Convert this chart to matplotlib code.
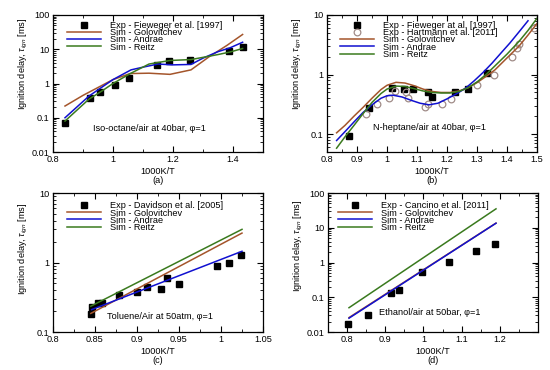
import numpy as np
import matplotlib
matplotlib.use("Agg")
import matplotlib.pyplot as plt
from matplotlib.ticker import MultipleLocator, FixedLocator, LogLocator, FuncFormatter, NullFormatter

plt.rcParams['font.family'] = ['Liberation Sans', 'DejaVu Sans']
plt.rcParams['mathtext.fontset'] = 'custom'
plt.rcParams['mathtext.rm'] = 'Liberation Sans'
plt.rcParams['mathtext.it'] = 'Liberation Sans:italic'
plt.rcParams['font.size'] = 6.6

BROWN = '#a4552b'
BLUE = '#1010d0'
GREEN = '#3a7a1e'
CIRC = '#a08c88'

# ---------------- (a) iso-octane ----------------
a_exp_x = [0.84, 0.923, 0.957, 1.007, 1.053, 1.146, 1.188, 1.257, 1.387, 1.432]
a_exp_y = [0.072, 0.37, 0.55, 0.93, 1.45, 3.5, 4.6, 4.9, 9.0, 11.5]
a_golo_x = [0.84, 0.9, 0.96, 1.0, 1.057, 1.12, 1.19, 1.26, 1.32, 1.38, 1.432]
a_golo_y = [0.22, 0.45, 0.85, 1.3, 1.95, 2.0, 1.85, 2.5, 6.0, 13, 27]
a_andr_x = [0.84, 0.92, 0.96, 1.0, 1.06, 1.1, 1.15, 1.2, 1.26, 1.3, 1.35, 1.39, 1.432]
a_andr_y = [0.1, 0.43, 0.75, 1.3, 2.5, 3.0, 3.7, 3.5, 3.6, 5.5, 8.5, 11, 16]
a_reitz_x = [0.84, 0.92, 0.96, 1.0, 1.06, 1.12, 1.19, 1.26, 1.3, 1.35, 1.39, 1.432]
a_reitz_y = [0.08, 0.35, 0.58, 1.0, 2.0, 3.7, 4.7, 5.0, 5.8, 7.0, 8.3, 10.5]

# ---------------- (b) n-heptane ----------------
b_fiew_x = [0.873, 0.941, 1.016, 1.057, 1.088, 1.136, 1.151, 1.227, 1.271, 1.332]
b_fiew_y = [0.093, 0.27, 0.59, 0.58, 0.57, 0.51, 0.42, 0.5, 0.575, 1.05]
b_hart_x = [0.93, 0.966, 1.008, 1.027, 1.063, 1.069, 1.127, 1.136, 1.184, 1.213,
            1.299, 1.358, 1.416, 1.432, 1.441, 1.49]
b_hart_y = [0.22, 0.32, 0.4, 0.53, 0.5, 0.41, 0.29, 0.32, 0.32, 0.39,
            0.66, 1.0, 2.0, 2.8, 3.3, 6.0]
b_golo_x = [0.832, 0.86, 0.89, 0.92, 0.95, 0.98, 1.0, 1.03, 1.06, 1.09, 1.12, 1.15,
            1.18, 1.21, 1.24, 1.27, 1.30, 1.33, 1.36, 1.40, 1.44, 1.47, 1.50]
b_golo_y = [0.105, 0.14, 0.2, 0.28, 0.4, 0.56, 0.66, 0.74, 0.72, 0.65, 0.57, 0.52,
            0.5, 0.5, 0.53, 0.6, 0.73, 0.93, 1.2, 1.9, 3.0, 4.6, 7.2]
b_andr_x = [0.832, 0.86, 0.89, 0.92, 0.95, 0.98, 1.0, 1.02, 1.05, 1.08, 1.11, 1.14,
            1.17, 1.2, 1.23, 1.26, 1.29, 1.32, 1.35, 1.38, 1.41, 1.44, 1.47]
b_andr_y = [0.078, 0.11, 0.16, 0.23, 0.31, 0.4, 0.44, 0.45, 0.42, 0.37, 0.33, 0.31,
            0.33, 0.39, 0.47, 0.58, 0.78, 1.08, 1.55, 2.3, 3.4, 5.2, 8.0]
b_reitz_x = [0.832, 0.86, 0.89, 0.92, 0.95, 0.98, 1.0, 1.03, 1.06, 1.09, 1.12, 1.15,
             1.18, 1.21, 1.24, 1.27, 1.30, 1.33, 1.36, 1.40, 1.44, 1.47, 1.50]
b_reitz_y = [0.058, 0.09, 0.14, 0.22, 0.34, 0.48, 0.57, 0.64, 0.63, 0.58, 0.53, 0.5,
             0.49, 0.49, 0.52, 0.6, 0.75, 1.0, 1.4, 2.2, 3.6, 5.5, 8.8]

# ---------------- (c) toluene ----------------
c_exp_x = [0.845, 0.847, 0.853, 0.858, 0.879, 0.9, 0.912, 0.929, 0.936, 0.95, 0.995, 1.01, 1.024]
c_exp_y = [0.18, 0.23, 0.26, 0.26, 0.34, 0.38, 0.44, 0.42, 0.6, 0.49, 0.89, 0.97, 1.29]
c_golo_x = [0.845, 1.025]
c_golo_y = [0.185, 2.65]
c_andr_x = [0.846, 1.025]
c_andr_y = [0.21, 1.45]
c_reitz_x = [0.845, 1.025]
c_reitz_y = [0.235, 3.0]

# ---------------- (d) ethanol ----------------
d_exp_x = [0.803, 0.856, 0.916, 0.936, 0.997, 1.068, 1.138, 1.188]
d_exp_y = [0.017, 0.031, 0.135, 0.16, 0.53, 1.02, 2.15, 3.3]
d_golo_x = [0.805, 1.19]
d_golo_y = [0.026, 13.6]
d_andr_x = [0.805, 1.19]
d_andr_y = [0.025, 13.5]
d_reitz_x = [0.805, 1.19]
d_reitz_y = [0.05, 35]

fig = plt.figure(figsize=(5.5, 3.7), dpi=100)
W, H = 550, 370


def make_ax(left, top, right, bottom):
    return fig.add_axes([left / W, 1 - bottom / H, (right - left) / W, (bottom - top) / H])


ax_a = make_ax(53, 15, 263, 152)
ax_b = make_ax(327, 15, 537, 152)
ax_c = make_ax(53, 193, 263, 332)
ax_d = make_ax(328, 193, 538, 332)

fmt = FuncFormatter(lambda v, p: '%g' % v)


def style(ax, xlim, ylim, xmaj, xmin, tag, ylab_y):
    ax.set_yscale('log')
    ax.set_xlim(*xlim)
    ax.set_ylim(*ylim)
    if isinstance(xmaj, list):
        ax.xaxis.set_major_locator(FixedLocator(xmaj))
    else:
        ax.xaxis.set_major_locator(MultipleLocator(xmaj))
    ax.xaxis.set_minor_locator(MultipleLocator(xmin))
    ax.xaxis.set_major_formatter(fmt)
    ax.yaxis.set_major_locator(LogLocator(base=10))
    ax.yaxis.set_minor_locator(LogLocator(base=10, subs=np.arange(2, 10)))
    ax.yaxis.set_major_formatter(fmt)
    ax.yaxis.set_minor_formatter(NullFormatter())
    ax.tick_params(which='both', direction='in', top=True, right=True, labelsize=6.6, pad=2.5)
    ax.tick_params(which='major', length=4, width=0.8)
    ax.tick_params(which='minor', length=2, width=0.6)
    for s in ax.spines.values():
        s.set_linewidth(0.9)
    ax.set_xlabel('1000K/T\n' + tag, labelpad=1.5, linespacing=1.05)
    ax.set_ylabel(r'Ignition delay, $\tau_{ign}$ [ms]')
    ax.yaxis.set_label_coords(-0.108, ylab_y)


def add_legend(ax, x0, y0):
    ax.legend(loc='upper left', bbox_to_anchor=(x0, y0), frameon=False, fontsize=6.6,
              handlelength=3.7, handletextpad=1.0, labelspacing=-0.2, borderpad=0,
              borderaxespad=0)


lw = 1.1
ms = 4.2

# (a)
ax_a.plot(a_exp_x, a_exp_y, 's', color='black', ms=ms, label='Exp - Fieweger et al. [1997]')
ax_a.plot(a_golo_x, a_golo_y, color=BROWN, lw=lw, label='Sim - Golovitchev')
ax_a.plot(a_andr_x, a_andr_y, color=BLUE, lw=lw, label='Sim - Andrae')
ax_a.plot(a_reitz_x, a_reitz_y, color=GREEN, lw=lw, label='Sim - Reitz')
style(ax_a, (0.8, 1.5), (0.01, 100), 0.2, 0.1, '(a)', 0.64)
add_legend(ax_a, 0.067, 0.955)
ax_a.text(0.46, 0.175, u'Iso-octane/air at 40bar, \u03c6=1', transform=ax_a.transAxes,
          ha='center', va='center', fontsize=6.6)

# (b)
ax_b.plot(b_fiew_x, b_fiew_y, 's', color='black', ms=ms, label='Exp - Fieweger at al. [1997]')
ax_b.plot(b_hart_x, b_hart_y, 'o', mfc='none', mec=CIRC, mew=0.9, ms=4.8,
          label='Exp - Hartmann et al. [2011]')
ax_b.plot(b_golo_x, b_golo_y, color=BROWN, lw=lw, label='Sim - Golovitchev')
ax_b.plot(b_andr_x, b_andr_y, color=BLUE, lw=lw, label='Sim - Andrae')
ax_b.plot(b_reitz_x, b_reitz_y, color=GREEN, lw=lw, label='Sim - Reitz')
style(ax_b, (0.8, 1.5), (0.05, 10), 0.1, 0.05, '(b)', 0.64)
add_legend(ax_b, 0.062, 0.955)
ax_b.text(0.486, 0.18, u'N-heptane/air at 40bar, \u03c6=1', transform=ax_b.transAxes,
          ha='center', va='center', fontsize=6.6)

# (c)
ax_c.plot(c_exp_x, c_exp_y, 's', color='black', ms=ms, label='Exp - Davidson et al. [2005]')
ax_c.plot(c_golo_x, c_golo_y, color=BROWN, lw=lw, label='Sim - Golovitchev')
ax_c.plot(c_andr_x, c_andr_y, color=BLUE, lw=lw, label='Sim - Andrae')
ax_c.plot(c_reitz_x, c_reitz_y, color=GREEN, lw=lw, label='Sim - Reitz')
style(ax_c, (0.8, 1.05), (0.1, 10), 0.05, 0.025, '(c)', 0.6)
add_legend(ax_c, 0.067, 0.94)
ax_c.text(0.51, 0.115, u'Toluene/Air at 50atm, \u03c6=1', transform=ax_c.transAxes,
          ha='center', va='center', fontsize=6.6)

# (d)
ax_d.plot(d_exp_x, d_exp_y, 's', color='black', ms=ms, label='Exp - Cancino et al. [2011]')
ax_d.plot(d_golo_x, d_golo_y, color=BROWN, lw=lw, label='Sim - Golovitchev')
ax_d.plot(d_andr_x, d_andr_y, color=BLUE, lw=lw, label='Sim - Andrae')
ax_d.plot(d_reitz_x, d_reitz_y, color=GREEN, lw=lw, label='Sim - Reitz')
style(ax_d, (0.75, 1.3), (0.01, 100), [0.8, 0.9, 1.0, 1.1, 1.2], 0.05, '(d)', 0.62)
add_legend(ax_d, 0.048, 0.94)
ax_d.text(0.486, 0.14, u'Ethanol/air at 50bar, \u03c6=1', transform=ax_d.transAxes,
          ha='center', va='center', fontsize=6.6)

fig.savefig('out.png', dpi=100)
